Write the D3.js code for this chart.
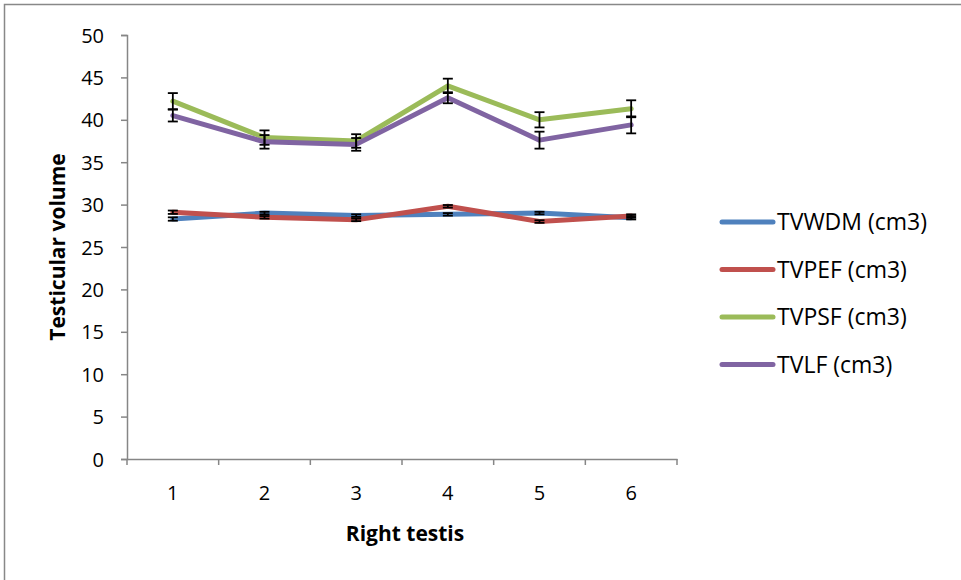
<!DOCTYPE html>
<html><head><meta charset="utf-8">
<script src="https://cdn.jsdelivr.net/npm/d3@7"></script>
<style>body{margin:0;background:#fff}svg{display:block}text{font-family:"Open Sans","Noto Sans",sans-serif;fill:#000}</style>
</head><body><svg id="c" width="961" height="580"></svg>
<script>
const categories = ["1","2","3","4","5","6"];
const yTicks = [0,5,10,15,20,25,30,35,40,45,50];
const seriesNames = ["TVWDM (cm3)","TVPEF (cm3)","TVPSF (cm3)","TVLF (cm3)"];
const seriesColors = ["#4F81BD","#C0504D","#9BBB59","#8064A2"];
const tvwdm = [28.3, 29.0, 28.7, 28.85, 29.0, 28.45];
const tvpef = [29.1, 28.5, 28.2, 29.8, 28.0, 28.65];
const tvpsf = [42.2, 37.9, 37.5, 44.0, 40.0, 41.3];
const tvlf  = [40.5, 37.4, 37.1, 42.6, 37.6, 39.4];
const errWdm = [0.2, 0.15, 0.15, 0.15, 0.15, 0.2];
const errPef = [0.2, 0.15, 0.15, 0.15, 0.15, 0.2];
const errPsf = [0.95, 0.85, 0.8, 0.85, 0.9, 1.0];
const errLf  = [0.7, 0.8, 0.75, 0.65, 1.0, 1.0];

const seriesVals = [tvwdm, tvpef, tvpsf, tvlf];
const seriesErr = [errWdm, errPef, errPsf, errLf];

const svg = d3.select("#c");
const pLeft = 127, pRight = 677, pTop = 35, pBottom = 459;

svg.append("rect").attr("x",4.5).attr("y",4.5).attr("width",980).attr("height",600)
  .attr("fill","none").attr("stroke","#888").attr("stroke-width",1.5);

const x = d3.scaleBand().domain(categories).range([pLeft,pRight]);
const y = d3.scaleLinear().domain([0,50]).range([pBottom,pTop]);

// y axis
const ya = svg.append("g").attr("transform",`translate(${pLeft},0)`)
  .call(d3.axisLeft(y).tickValues(yTicks).tickSize(6).tickPadding(17));
ya.select(".domain").attr("stroke","#868686").attr("stroke-width",1.5);
ya.selectAll(".tick line").attr("stroke","#868686").attr("stroke-width",1.5);
ya.selectAll(".tick text").style("font-size","20px").attr("dy","0.35em");

// x axis
const xa = svg.append("g").attr("transform",`translate(0,${pBottom})`)
  .call(d3.axisBottom(x).tickSize(0).tickPadding(27));
xa.select(".domain").attr("stroke","#868686").attr("stroke-width",1.5);
xa.selectAll(".tick text").style("font-size","20px");
// ticks between categories
const bounds = categories.map(c=>x(c)).concat([x(categories[categories.length-1])+x.bandwidth()]);
svg.append("g").selectAll("line").data(bounds).join("line")
  .attr("x1",d=>d).attr("x2",d=>d).attr("y1",pBottom).attr("y2",pBottom+6)
  .attr("stroke","#868686").attr("stroke-width",1.5);

const cx = c => x(c) + x.bandwidth()/2;

// lines
const line = d3.line().x((d,i)=>cx(categories[i])).y(d=>y(d));
seriesVals.forEach((vals,k)=>{
  svg.append("path").datum(vals).attr("d",line).attr("fill","none")
    .attr("stroke",seriesColors[k]).attr("stroke-width",5).attr("stroke-linejoin","round").attr("stroke-linecap","round");
});
// error bars
seriesVals.forEach((vals,k)=>{
  const g = svg.append("g").attr("stroke","#000").attr("stroke-width",1.8);
  vals.forEach((v,i)=>{
    const e = seriesErr[k][i], px = cx(categories[i]);
    g.append("line").attr("x1",px).attr("x2",px).attr("y1",y(v+e)).attr("y2",y(v-e));
    g.append("line").attr("x1",px-5).attr("x2",px+5).attr("y1",y(v+e)).attr("y2",y(v+e));
    g.append("line").attr("x1",px-5).attr("x2",px+5).attr("y1",y(v-e)).attr("y2",y(v-e));
  });
});

// axis titles
svg.append("text").attr("x",405).attr("y",541).attr("text-anchor","middle")
  .style("font-size","21px").style("font-weight","bold").text("Right testis");
svg.append("text").attr("transform","translate(65,247) rotate(-90)").attr("text-anchor","middle")
  .style("font-size","21px").style("font-weight","bold").text("Testicular volume");

// legend
const lg = svg.append("g");
seriesNames.forEach((n,k)=>{
  const ly = 222 + k*47.5;
  lg.append("line").attr("x1",722).attr("x2",773).attr("y1",ly).attr("y2",ly)
    .attr("stroke",seriesColors[k]).attr("stroke-width",5).attr("stroke-linecap","round");
  lg.append("text").attr("x",777).attr("y",ly).attr("dy","0.35em").style("font-size","23px").text(n);
});
</script></body></html>
